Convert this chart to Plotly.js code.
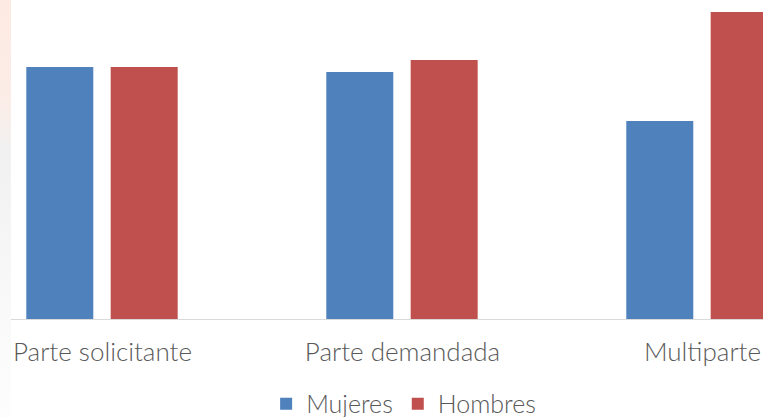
<!DOCTYPE html>
<html>
<head>
<meta charset="utf-8">
<script src="https://cdn.plot.ly/plotly-3.0.1.min.js"></script>
<style>
  html, body { margin: 0; padding: 0; background: #ffffff; }
  #chart {
    width: 763px; height: 417px;
    background:
      linear-gradient(to right, rgba(255,255,255,0) 0px, rgba(255,255,255,0) 11px, #ffffff 11px),
      linear-gradient(to bottom, #fdebe3 0px, #fcece6 95px, #f1f1f1 150px, #f5f5f5 230px, #fafafa 330px, #fdfdfd 417px);
  }
</style>
</head>
<body>
<div id="chart"></div>
<script>
const categories = ["Parte solicitante", "Parte demandada", "Multiparte"];
const seriesNames = ["Mujeres", "Hombres"];
const mujeres = [25.2, 24.7, 19.8];
const hombres = [25.2, 25.9, 30.7];

const fontFamily = "Lato, 'Open Sans', sans-serif";

const traces = [
  {
    type: "bar", name: seriesNames[0], x: categories, y: mujeres,
    marker: { color: "#4f81bd" }, width: 0.2233, offset: -0.254
  },
  {
    type: "bar", name: seriesNames[1], x: categories, y: hombres,
    marker: { color: "#c0504d" }, width: 0.2233, offset: 0.0273
  }
];

const layout = {
  width: 763, height: 417,
  margin: { l: 11, r: 0, t: 0, b: 98, pad: 0, autoexpand: false },
  paper_bgcolor: "rgba(0,0,0,0)",
  plot_bgcolor: "#ffffff",
  barmode: "overlay",
  showlegend: true,
  legend: {
    orientation: "h",
    xref: "container", x: 0.529, xanchor: "center",
    yref: "container", y: 0.0312, yanchor: "middle",
    itemwidth: 30,
    font: { family: fontFamily, size: 25, color: "#595959", weight: 300 },
    bgcolor: "rgba(0,0,0,0)", traceorder: "normal"
  },
  xaxis: {
    type: "category", range: [-0.305, 2.2017],
    showline: true, linecolor: "#d9d9d9", linewidth: 1,
    showgrid: false, zeroline: false, ticks: "",
    ticklabelstandoff: 10,
    tickfont: { family: fontFamily, size: 26, color: "#595959", weight: 300 },
    fixedrange: true
  },
  yaxis: {
    range: [0, 31.9], visible: false, showgrid: false, zeroline: false, fixedrange: true
  },
  font: { family: fontFamily, color: "#595959" }
};

Plotly.newPlot("chart", traces, layout, { displayModeBar: false, staticPlot: true });
</script>
</body>
</html>
